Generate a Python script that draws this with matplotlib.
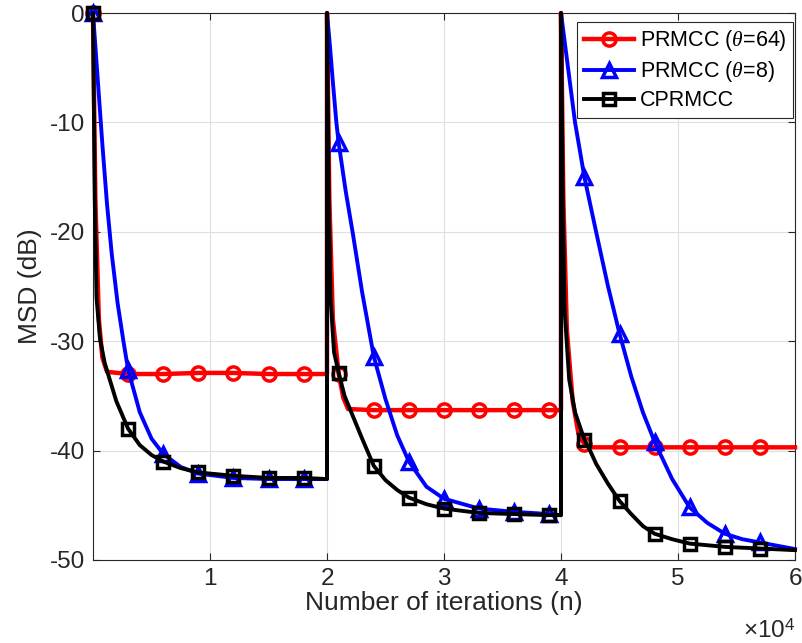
import matplotlib
matplotlib.use("Agg")
import matplotlib.pyplot as plt
import numpy as np

plt.rcParams['font.family'] = ['Liberation Sans', 'DejaVu Sans']
plt.rcParams['mathtext.fontset'] = 'custom'
plt.rcParams['mathtext.rm'] = 'Liberation Sans'
plt.rcParams['mathtext.it'] = 'Liberation Serif:italic'
plt.rcParams['mathtext.bf'] = 'Liberation Sans:bold'

# ---------------- data ----------------
red_n = [0, 200, 500, 800, 1200, 3000, 6000, 9000, 12000, 15000, 18000, 19999,
         20000, 20200, 20500, 21000, 21400, 21800, 24000, 27000, 30000, 33000, 36000, 39000, 39999,
         40000, 40200, 40500, 41000, 41500, 42000, 42500, 45000, 48000, 51000, 54000, 57000, 60000]
red_v = [0, -17, -28, -31.5, -32.8, -33.0, -33.0, -32.9, -32.9, -33.0, -33.0, -33.0,
         0, -17, -28, -33.0, -35.2, -36.2, -36.3, -36.3, -36.3, -36.3, -36.3, -36.3, -36.3,
         0, -17, -29, -35.5, -38.5, -39.4, -39.7, -39.7, -39.7, -39.7, -39.7, -39.7, -39.7]

blue_n = [0, 400, 800, 1200, 1600, 2100, 2600, 3000, 4000, 5000, 6000, 7500, 9000, 12000, 15000, 18000, 19999,
          20000, 20250, 20500, 20800, 21000, 21600, 22200, 23000, 24000, 25000, 26000, 27000, 28500, 30000,
          33000, 36000, 39000, 39999,
          40000, 40300, 40600, 41200, 42000, 43000, 44000, 45000, 46000, 47000, 48000, 49500, 51000, 52500,
          54000, 55500, 57000, 60000]
blue_v = [0, -6, -12, -17.5, -22, -26.5, -30, -32.6, -36.5, -38.9, -40.3, -41.5, -42.1, -42.5, -42.6, -42.6, -42.6,
          0, -3, -6.3, -10, -11.9, -16.3, -20.1, -25.5, -31.4, -35.3, -38.6, -41.0, -43.3, -44.4,
          -45.3, -45.6, -45.8, -45.9,
          0, -2.5, -5, -10, -15.0, -20.0, -24.9, -29.3, -33.2, -36.5, -39.2, -42.6, -45.2, -46.6,
          -47.6, -48.1, -48.4, -49.0]

black_n = [0, 150, 300, 600, 1000, 2000, 3000, 4000, 5000, 6000, 7500, 9000, 12000, 15000, 18000, 19999,
           20000, 20150, 20300, 20600, 21000, 21500, 22000, 23000, 24000, 25000, 26000, 27000, 28500, 30000,
           33000, 36000, 39000, 39999,
           40000, 40150, 40300, 40700, 41200, 42000, 42400, 43000, 44000, 45000, 46000, 47000, 48000, 49500,
           51000, 54000, 57000, 60000]
black_v = [0, -17, -26, -29.8, -32.0, -35.5, -38.0, -39.5, -40.4, -41.0, -41.6, -42.0, -42.3, -42.5, -42.5, -42.6,
           0, -17, -26, -31, -32.9, -35.0, -36.3, -38.9, -41.4, -42.7, -43.6, -44.3, -44.9, -45.3,
           -45.7, -45.8, -45.9, -45.9,
           0, -17, -27, -33.5, -36.5, -39.0, -39.8, -41.2, -43.0, -44.6, -45.8, -46.9, -47.6, -48.1,
           -48.5, -48.8, -48.95, -49.1]

labels = [r'PRMCC ($\theta$=64)', r'PRMCC ($\theta$=8)', 'CPRMCC']
marker_step = 3000
xticks = [10000, 20000, 30000, 40000, 50000, 60000]
xticklabels = ['1', '2', '3', '4', '5', '6']
yticks = [0, -10, -20, -30, -40, -50]
yticklabels = ['0', '-10', '-20', '-30', '-40', '-50']

# ---------------- plotting ----------------
fig = plt.figure(figsize=(8.03, 6.43), dpi=100)
ax = fig.add_axes([93/803, 1-560/643, (795-93)/803, (560-13)/643])

def marks(n):
    return [i for i, v in enumerate(n) if v % marker_step == 0 and v < 60000]

axc = '#262626'
ax.plot(red_n, red_v, color='red', lw=3.2, marker='o', ms=9.5, mew=2.5, mfc='none',
        markevery=marks(red_n), label=labels[0], clip_on=False, zorder=3)
ax.plot(blue_n, blue_v, color='blue', lw=2.8, marker='^', ms=10.5, mew=2.5, mfc='none',
        markevery=marks(blue_n), label=labels[1], clip_on=False, zorder=4)
ax.plot(black_n, black_v, color='black', lw=2.8, marker='s', ms=8.5, mew=2.5, mfc='none',
        markevery=marks(black_n), label=labels[2], clip_on=False, zorder=5)

ax.set_xlim(0, 60000)
ax.set_ylim(-50, 0)
ax.set_xticks(xticks)
ax.set_xticklabels(xticklabels)
ax.set_yticks(yticks)
ax.set_yticklabels(yticklabels)
ax.grid(True, color='#dfdfdf', lw=0.8)
ax.set_axisbelow(True)
ax.tick_params(direction='in', length=5, width=0.8, top=True, right=True,
               labelsize=17.5, colors=axc, pad=6)
for s in ax.spines.values():
    s.set_color(axc)
    s.set_linewidth(0.8)

ax.set_xlabel('Number of iterations (n)', fontsize=19, color=axc, labelpad=0.5)
ax.set_ylabel('MSD (dB)', fontsize=19, color=axc, labelpad=5)

fig.text(795/803, 1-638/643, r'×10$^{4}$', fontsize=17.5, color=axc, ha='right', va='baseline')

leg = ax.legend(loc='upper right', bbox_to_anchor=((793-93)/702, (560-22)/547),
                borderaxespad=0, fontsize=15.5, frameon=True, fancybox=False,
                handlelength=2.35, handletextpad=0.25, labelspacing=0.27,
                borderpad=0.3, framealpha=1)
leg.get_frame().set_edgecolor(axc)
leg.get_frame().set_linewidth(0.8)
for t in leg.get_texts():
    t.set_color('black')

fig.savefig('out.png', dpi=100)
